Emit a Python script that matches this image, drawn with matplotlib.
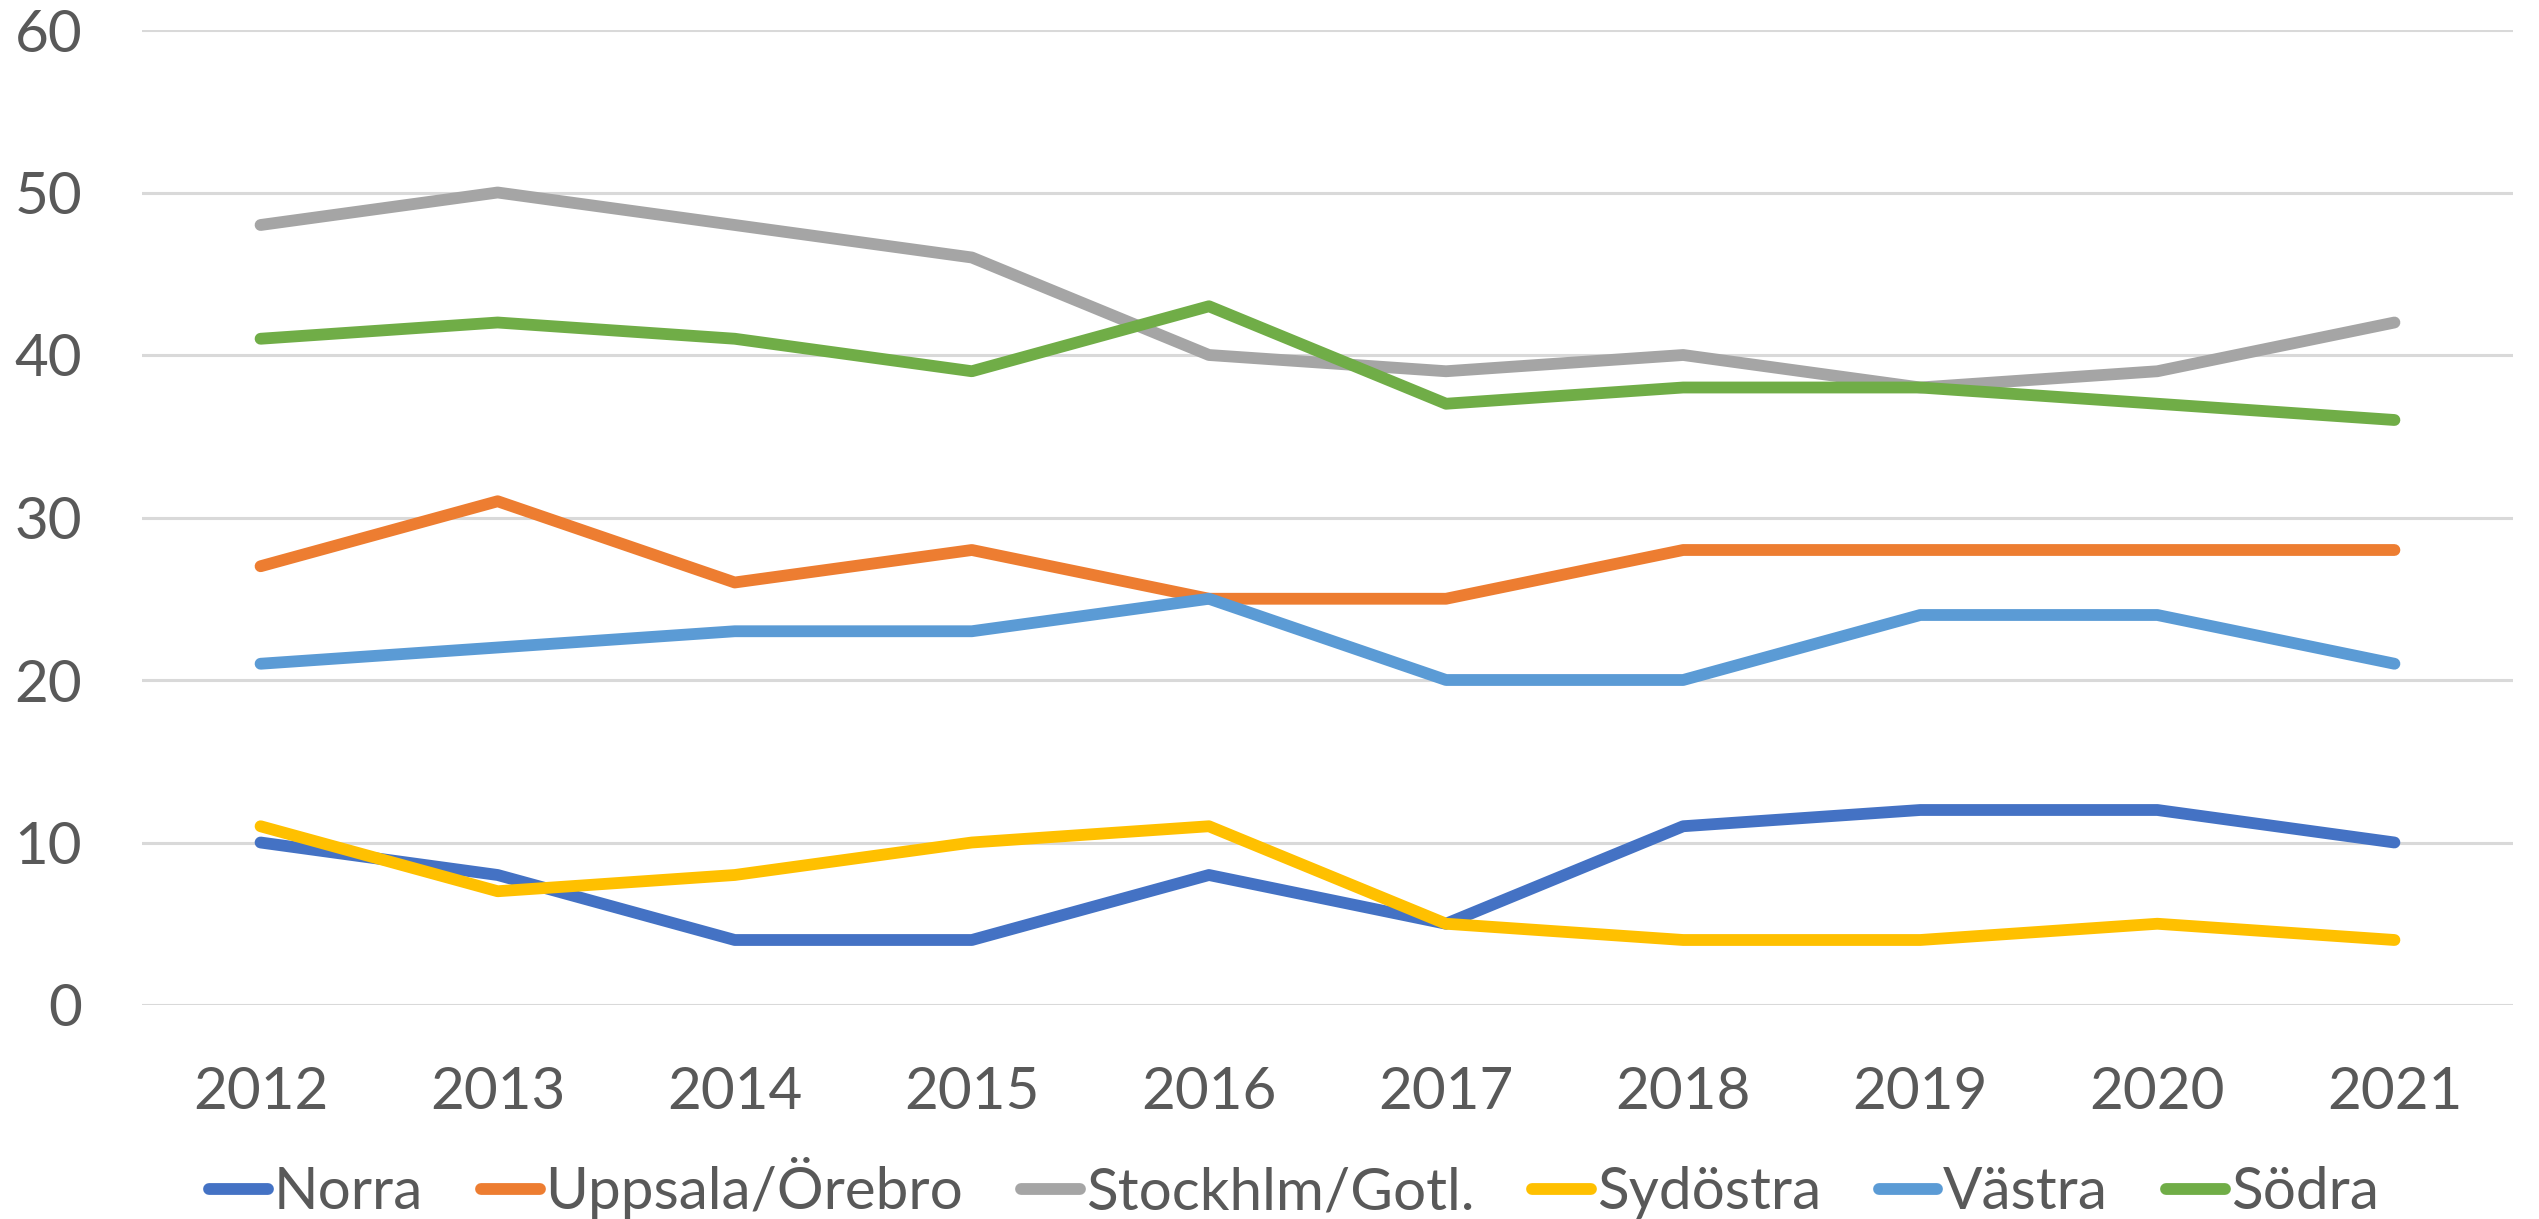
import matplotlib
matplotlib.use("Agg")
import matplotlib.pyplot as plt

plt.rcParams["font.family"] = ["Lato", "DejaVu Sans"]

years = ["2012", "2013", "2014", "2015", "2016", "2017", "2018", "2019", "2020", "2021"]
regions = ["Norra", "Uppsala/Örebro", "Stockhlm/Gotl.", "Sydöstra", "Västra", "Södra"]
norra = [10, 8, 4, 4, 8, 5, 11, 12, 12, 10]
uppsala = [27, 31, 26, 28, 25, 25, 28, 28, 28, 28]
stockholm = [48, 50, 48, 46, 40, 39, 40, 38, 39, 42]
sydostra = [11, 7, 8, 10, 11, 5, 4, 4, 5, 4]
vastra = [21, 22, 23, 23, 25, 20, 20, 24, 24, 21]
sodra = [41, 42, 41, 39, 43, 37, 38, 38, 37, 36]

series = [norra, uppsala, stockholm, sydostra, vastra, sodra]
colors = ["#4472C4", "#ED7D31", "#A5A5A5", "#FFC000", "#5B9BD5", "#70AD47"]

W, H = 2539, 1219
fig = plt.figure(figsize=(W / 100, H / 100), dpi=100)
ax = fig.add_axes([142 / W, 1 - 1005 / H, (2513 - 142) / W, (1005 - 30) / H])

x = range(len(years))
for name, vals, c in zip(regions, series, colors):
    ax.plot(x, vals, color=c, lw=8.5, solid_capstyle="round",
            solid_joinstyle="round", label=name)

ax.set_xlim(-0.5, len(years) - 0.5)
ax.set_ylim(0, 60)
ax.set_yticks(range(0, 61, 10))
ax.set_xticks(list(x))
ax.set_xticklabels(years)
ax.grid(axis="y", color="#D9D9D9", lw=2.2)
ax.set_axisbelow(True)
for s in ax.spines.values():
    s.set_visible(False)
ax.tick_params(axis="both", length=0, labelsize=42, labelcolor="#595959")
ax.tick_params(axis="y", pad=43)
ax.tick_params(axis="x", pad=44)

# legend along the bottom, like Excel's
leg = fig.legend(loc="center", bbox_to_anchor=(1294 / W, 1 - 1188 / H),
                 ncol=6, frameon=False, fontsize=42, handlelength=1.0,
                 handletextpad=0.1, columnspacing=1.0, borderaxespad=0)
for t in leg.get_texts():
    t.set_color("#595959")

fig.savefig("out.png", dpi=100)
